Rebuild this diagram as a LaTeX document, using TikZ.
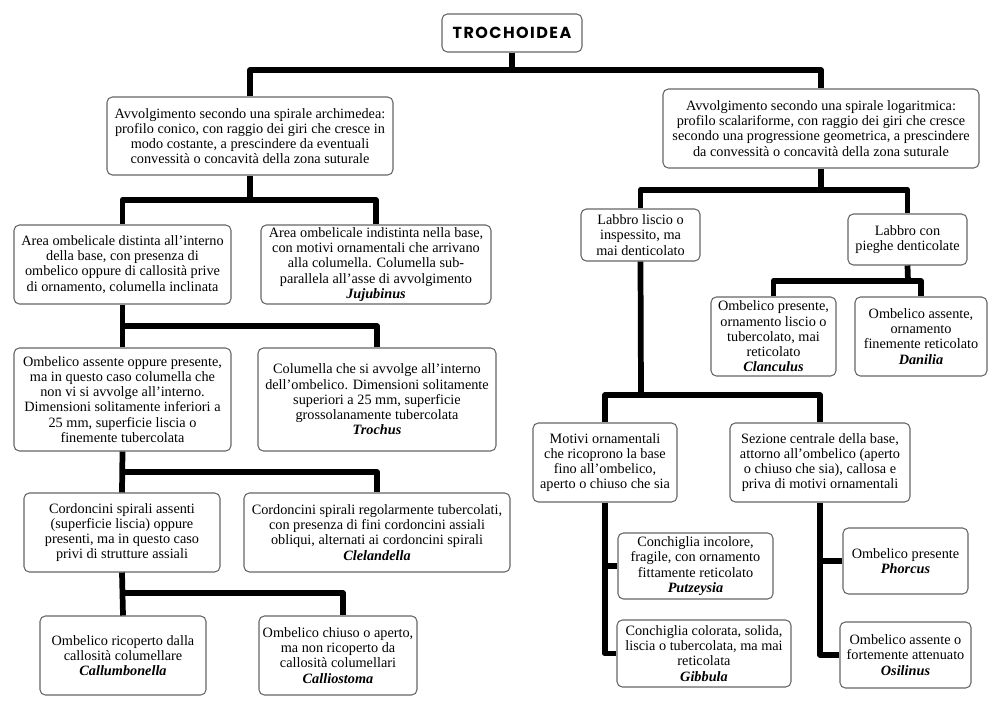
\documentclass[tikz,border=0pt]{standalone}
\usepackage{fontspec}
\setmainfont{Liberation Serif}
\newfontfamily\titlefont[LetterSpace=9]{Poppins}
\newcommand{\gen}[1]{\textbf{\textit{#1}}}
\newcommand{\mybox}[6]{\node[box, minimum width={(#4-#2)*0.75pt}, minimum height={(#5-#3)*0.75pt}] (#1) at ({(#2+#4)/2},{(#3+#5)/2}) {#6};}
\begin{document}
\begin{tikzpicture}[x=0.75pt,y=-0.75pt,
  box/.style={draw=black!60, line width=0.8pt, rounded corners=4pt, fill=white, align=center, inner sep=0pt, font=\fontsize{10.7}{11.4}\selectfont},
  conn/.style={line width=4.3pt, line join=round}]
\fill[white] (0,0) rectangle (1000,709);
\useasboundingbox (0,0) rectangle (1000,709);

% boxes
\node[box, minimum width=105pt, minimum height=28.5pt, font={\titlefont\bfseries\fontsize{12}{13}\selectfont}] (title) at (512,33) {TROCHOIDEA};
\mybox{arch}{107}{97}{393}{175}{Avvolgimento secondo una spirale archimedea:\\profilo conico, con raggio dei giri che cresce in\\modo costante, a prescindere da eventuali\\convessità o concavità della zona suturale}
\mybox{log}{663}{89}{979}{168}{Avvolgimento secondo una spirale logaritmica:\\profilo scalariforme, con raggio dei giri che cresce\\secondo una progressione geometrica, a prescindere\\da convessità o concavità della zona suturale}
\mybox{da}{14}{225}{231}{304}{Area ombelicale distinta all’interno\\della base, con presenza di\\ombelico oppure di callosità prive\\di ornamento, columella inclinata}
\mybox{di}{261}{225}{491}{304}{Area ombelicale indistinta nella base,\\con motivi ornamentali che arrivano\\alla columella. Columella sub-\\parallela all’asse di avvolgimento\\\gen{Jujubinus}}
\mybox{oa}{14}{348}{231}{451}{Ombelico assente oppure presente,\\ma in questo caso columella che\\non vi si avvolge all’interno.\\Dimensioni solitamente inferiori a\\25 mm, superficie liscia o\\finemente tubercolata}
\mybox{col}{258}{348}{496}{451}{Columella che si avvolge all’interno\\dell’ombelico. Dimensioni solitamente\\superiori a 25 mm, superficie\\grossolanamente tubercolata\\\gen{Trochus}}
\mybox{cs}{24}{493}{220}{572}{Cordoncini spirali assenti\\(superficie liscia) oppure\\presenti, ma in questo caso\\privi di strutture assiali}
\mybox{clel}{244}{493}{510}{572}{Cordoncini spirali regolarmente tubercolati,\\con presenza di fini cordoncini assiali\\obliqui, alternati ai cordoncini spirali\\\gen{Clelandella}}
\mybox{callum}{40}{616}{206}{695}{Ombelico ricoperto dalla\\callosità columellare\\\gen{Callumbonella}}
\mybox{callio}{259}{616}{417}{695}{Ombelico chiuso o aperto,\\ma non ricoperto da\\callosità columellari\\\gen{Calliostoma}}
\mybox{liscio}{581}{209}{700}{261}{Labbro liscio o\\inspessito, ma\\mai denticolato}
\mybox{pieghe}{848}{214}{967}{265}{Labbro con\\pieghe denticolate}
\mybox{clanc}{711}{297}{836}{376}{Ombelico presente,\\ornamento liscio o\\tubercolato, mai\\reticolato\\\gen{Clanculus}}
\mybox{danil}{855}{297}{987}{376}{Ombelico assente,\\ornamento\\finemente reticolato\\\gen{Danilia}}
\mybox{motivi}{533}{423}{677}{502}{Motivi ornamentali\\che ricoprono la base\\fino all’ombelico,\\aperto o chiuso che sia}
\mybox{sez}{730}{423}{910}{502}{Sezione centrale della base,\\attorno all’ombelico (aperto\\o chiuso che sia), callosa e\\priva di motivi ornamentali}
\mybox{putz}{618}{533}{773}{599}{Conchiglia incolore,\\fragile, con ornamento\\fittamente reticolato\\\gen{Putzeysia}}
\mybox{gibb}{617}{620}{791}{687}{Conchiglia colorata, solida,\\liscia o tubercolata, ma mai\\reticolata\\\gen{Gibbula}}
\mybox{phor}{843}{528}{968}{594}{Ombelico presente\\\gen{Phorcus}}
\mybox{osil}{840}{622}{971}{688}{Ombelico assente o\\fortemente attenuato\\\gen{Osilinus}}

% junctions
\coordinate (j0) at (512,70);
\coordinate (j1) at (250,200);
\coordinate (j2) at (123,326);
\coordinate (j3) at (123,472);
\coordinate (j4) at (123,593);
\coordinate (j5) at (821,190);
\coordinate (j6) at (908,281);
\coordinate (j7) at (641,395);

% connectors
\draw[conn] (title.south) -- (j0);
\draw[conn] (arch.north) |- (j0) -| (log.north);
\draw[conn] (arch.south) -- (j1);
\draw[conn] (da.north) |- (j1) -| (di.north);
\draw[conn] (da.south) -- (oa.north);
\draw[conn] (j2) -| (col.north);
\draw[conn] (oa.south) -- (cs.north);
\draw[conn] (j3) -| (clel.north);
\draw[conn] (cs.south) -- (callum.north);
\draw[conn] (j4) -| ([xshift=3.75pt]callio.north);
\draw[conn] (log.south) -- (j5);
\draw[conn] (liscio.north) |- (j5) -| (pieghe.north);
\draw[conn] (pieghe.south) -- (j6);
\draw[conn] (clanc.north) |- (j6) -| (danil.north);
\draw[conn] (liscio.south) -- (j7);
\draw[conn] (motivi.north) |- (j7) -| (sez.north);
\draw[conn] (motivi.south) |- (gibb.west);
\draw[conn] (motivi.south |- putz.west) -- (putz.west);
\draw[conn] (sez.south) |- (osil.west);
\draw[conn] (sez.south |- phor.west) -- (phor.west);
\end{tikzpicture}
\end{document}
